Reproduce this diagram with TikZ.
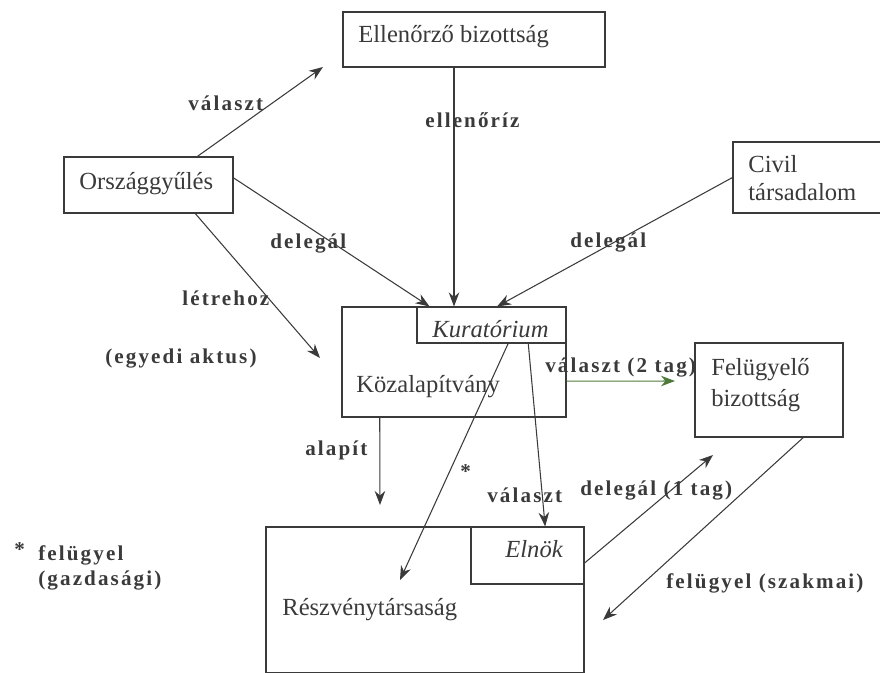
\documentclass[tikz,border=0pt]{standalone}
\usepackage{fontspec}
\setmainfont{Liberation Serif}
\newfontfamily\lblfont[LetterSpace=10]{Liberation Serif}
\usetikzlibrary{arrows.meta,calc,fit}
\definecolor{ink}{HTML}{3A3A3A}
\definecolor{olive}{HTML}{4D7A3A}
\begin{document}
\begin{tikzpicture}[x=0.02cm,y=-0.02cm,
    box/.style={draw=ink,line width=0.6pt,inner sep=0pt},
    txt/.style={inner sep=0pt,anchor=base west,text=ink,font=\fontsize{14}{16}\selectfont},
    lbl/.style={inner sep=0pt,anchor=base west,text=ink,font=\lblfont\bfseries\fontsize{12}{14}\selectfont},
    arr/.style={draw=ink,line width=0.6pt,-{Stealth[length=8pt,width=6pt]}}]
    \useasboundingbox (0,0) rectangle (880,673);
    % boxes
    \node[box,fit={(343,12) (605,67)}] (ell) {};
    \node[box,fit={(64,157) (233,213)}] (orsz) {};
    \node[box,fit={(733,142) (885,213)}] (civil) {};
    \node[box,fit={(342,307) (566,417)}] (kozal) {};
    \node[box,fit={(417,307) (566,343)}] (kur) {};
    \node[box,fit={(695,343) (843,437)}] (felu) {};
    \node[box,fit={(266,527) (584,672.5)}] (rt) {};
    \node[box,fit={(471,527) (584,584)}] (eln) {};
    % texts
    \node[txt] (ellT) at (358,42) {Ellenőrző bizottság};
    \node[txt] (orszT) at (79,189) {Országgyűlés};
    \node[txt] (civilT) at (748,172) {Civil};
    \node[txt] (civilT2) at (748,200) {társadalom};
    \node[txt] (kurT) at (432,337) {\itshape Kuratórium};
    \node[txt] (kozalT) at (356,392) {Közalapítvány};
    \node[txt] (feluT) at (711,375) {Felügyelő};
    \node[txt] (feluT2) at (711,406) {bizottság};
    \node[txt] (elnT) at (505,557) {\itshape Elnök};
    \node[txt] (rtT) at (282,615) {Részvénytársaság};
    % free ends
    \coordinate (valEnd) at (323,67);
    \coordinate (letEnd) at (320,358);
    \coordinate (csilEnd) at (400,580);
    \coordinate (kettoEnd) at (675,381);
    \coordinate (alapEnd) at (380,505);
    \coordinate (egyEnd) at (713,455);
    \coordinate (szakEnd) at (603,620);
    % connectors
    \draw[arr] ($(orsz.north west)!.787!(orsz.north east)$) -- (valEnd);
    \draw[arr] ($(ell.south west)!.424!(ell.south east)$) coordinate (e1) -- (e1 |- kur.north);
    \draw[arr] ($(orsz.north east)!.375!(orsz.south east)$) -- ($(kur.north west)!.087!(kur.north east)$);
    \draw[arr] ($(orsz.south west)!.775!(orsz.south east)$) -- (letEnd);
    \draw[arr] (civil.west) -- ($(kur.north west)!.537!(kur.north east)$);
    \draw[arr] ($(kur.south west)!.611!(kur.south east)$) -- (csilEnd);
    \draw[arr] ($(kur.south west)!.745!(kur.south east)$) -- ($(eln.north west)!.655!(eln.north east)$);
    \draw[arr,draw=olive] ($(kozal.north east)!.673!(kozal.south east)$) -- (kettoEnd);
    \draw[arr] ($(kozal.south west)!.17!(kozal.south east)$) -- (alapEnd);
    \draw[arr] ($(eln.north east)!.63!(eln.south east)$) -- (egyEnd);
    \draw[arr] ($(felu.south west)!.73!(felu.south east)$) -- (szakEnd);
    % labels
    \node[lbl] (lValaszt) at (188,110) {választ};
    \node[lbl] (lEllenoriz) at (425,127) {ellenőríz};
    \node[lbl] (lDelegal) at (270,248) {delegál};
    \node[lbl] (lDelegal2) at (570,247) {delegál};
    \node[lbl] (lLetrehoz) at (182,305) {létrehoz};
    \node[lbl] (lEgyedi) at (105,363) {(egyedi aktus)};
    \node[lbl] (lKetto) at (545,372) {választ (2 tag)};
    \node[lbl] (lAlapit) at (305,455) {alapít};
    \node[lbl] (lCsillag) at (460,478) {*};
    \node[lbl] (lValaszt2) at (487,502) {választ};
    \node[lbl] (lEgy) at (580,495) {delegál (1 tag)};
    \node[lbl] (lSzakmai) at (666,588) {felügyel (szakmai)};
    \node[lbl] (lCsillag2) at (14,556) {*};
    \node[lbl] (lFelugyel) at (38,560) {felügyel};
    \node[lbl] (lGazd) at (38,585) {(gazdasági)};
\end{tikzpicture}
\end{document}
